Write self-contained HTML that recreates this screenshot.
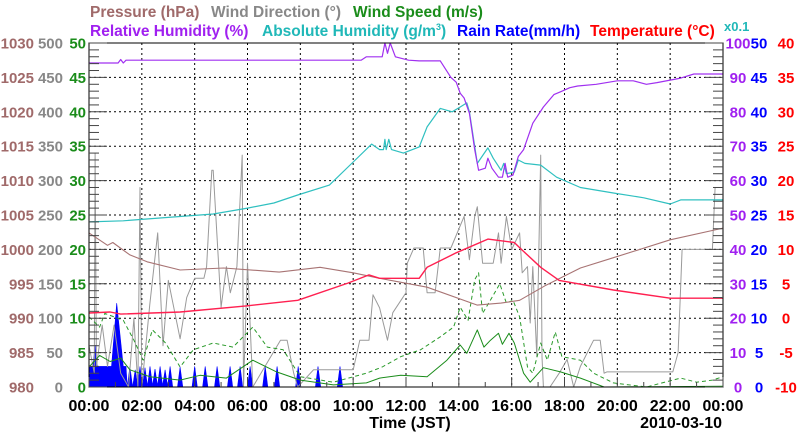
<!DOCTYPE html>
<html><head><meta charset="utf-8"><style>
body{margin:0;background:#fff;}
svg{display:block;font-family:"Liberation Sans",Arial,sans-serif;font-weight:bold;}
</style></head><body>
<svg id="c" width="800" height="434" viewBox="0 0 800 434" xmlns="http://www.w3.org/2000/svg">
<g font-size="15.5">
<text x="90" y="17" fill="#a06a6a">Pressure (hPa)</text>
<text x="211" y="17" fill="#888">Wind Direction (°)</text>
<text x="353" y="17" fill="#1a8c1a">Wind Speed (m/s)</text>
<text x="90" y="36" fill="#a020f0">Relative Humidity (%)</text>
<text x="262" y="36" fill="#20b8b8">Absolute Humidity (g/m<tspan font-size="9" dy="-6">3</tspan><tspan dy="6">)</tspan></text>
<text x="457" y="36" fill="#0000ff">Rain Rate(mm/h)</text>
<text x="590" y="36" fill="#ff0000">Temperature (°C)</text>
<text x="724" y="31" fill="#20b8b8" font-size="13">x0.1</text>
</g>
<g id="grid"></g>
<g id="series"></g>
<g id="axes"></g>
<text x="410" y="428" text-anchor="middle" font-size="16" fill="#000">Time (JST)</text>
<text x="722" y="428" text-anchor="end" font-size="16" fill="#000">2010-03-10</text>
</svg>
<script>
// ---- data (hours since 00:00) ----
const xTickLabels = ["00:00","02:00","04:00","06:00","08:00","10:00","12:00","14:00","16:00","18:00","20:00","22:00","00:00"];
const pressureTicks = [1030,1025,1020,1015,1010,1005,1000,995,990,985,980];
const dirTicks = [500,450,400,350,300,250,200,150,100,50,0];
const speedTicks = [50,45,40,35,30,25,20,15,10,5,0];
const rhTicks = [100,90,80,70,60,50,40,30,20,10,0];
const rainTicks = [50,45,40,35,30,25,20,15,10,5,0];
const tempTicks = [40,35,30,25,20,15,10,5,0,-5,-10];

const rhT = [0,1.1,1.2,1.3,1.4,1.5,10.3,10.5,11.1,11.2,11.3,11.4,11.6,12.1,12.5,13.3,13.7,13.9,14.05,14.2,14.4,14.6,14.75,15,15.1,15.25,15.5,15.65,15.75,15.85,16.05,16.25,16.45,16.8,17.2,17.6,17.85,18.2,18.5,19.2,20,20.6,21.1,21.5,22.4,22.9,24];
const rhV = [94.2,94.2,95.2,94.2,95,95,95,96,96,100,97,100,96,95,94.8,94.8,90,88.6,85.4,84,79.6,69,63,63.6,66.5,63.6,61,61,65,61,61.6,67,69,76.7,81.4,85,85.8,87,87.5,88,89,89,88,88.5,89.8,91,91];

const ahT = [0,1.3,2.5,3.5,4.7,6,7,7.9,9.1,10,10.7,11,11.15,11.2,11.25,11.35,11.45,11.9,12.5,12.8,13.3,13.75,14.05,14.3,14.4,14.7,15.1,15.3,15.6,15.7,15.8,16.1,16.25,16.5,17.1,17.7,18.6,19.85,21,22,22.4,23,24];
const ahV = [48,48.3,49,49.6,50.3,52,53.5,55.8,58.7,65.4,70.6,69,69,72,69,72,69,68,69.8,75.6,81,80,81.4,82.6,80,65,69.5,66.5,63,65,62,62.5,66,65,64.5,61,58,56.4,55,53.2,54.4,54.4,54.4];

const presT = [0,0.7,0.9,1.55,2.2,3.45,5.1,7.2,8.75,10,11,12.8,14.7,15.6,16.3,17.3,18.6,19.85,22,24];
const presV = [1002.4,1000.6,1001,999.2,998.2,997,997.3,996.7,997.4,996.6,995.8,994.5,991.9,992.2,992.6,994.8,997.3,998.8,1001.4,1003.1];

const tempT = [0,0.8,1.2,3.45,6,7.9,9.8,10.6,11,12.5,12.8,13.9,15.1,16.1,16.4,17.1,17.8,19.85,22,24];
const tempV = [0.75,0.9,0.6,0.9,1.8,2.6,5.1,6.3,5.8,5.8,7.4,9.5,11.5,11,9.9,7.4,5.5,4.1,2.9,2.9];

const dirT = [0,0.2,0.23,0.28,0.5,0.7,0.95,1.2,1.5,1.7,1.85,1.93,2.0,2.3,2.6,2.8,3.0,3.45,3.7,4.0,4.35,4.45,4.65,4.7,5.0,5.2,5.35,5.6,5.8,5.85,6.0,6.2,7.25,7.5,7.75,7.9,8.5,10,10.25,10.6,10.75,11,11.3,11.5,12,12.05,12.3,12.65,12.8,13.1,13.3,13.7,14.2,14.4,14.6,14.7,14.9,15.3,15.5,15.6,15.8,16.0,16.3,16.4,16.6,16.7,16.8,16.95,17.1,17.15,17.2,17.45,17.8,18.1,18.35,18.6,19.1,19.35,19.5,19.6,22.1,22.3,22.45,23.6,23.7,24];
const dirV = [60,20,340,30,90,30,90,20,0,100,0,290,0,120,224,60,155,70,130,158,158,175,315,315,116,175,137,175,337,0,180,0,68,68,20,0,25,25,68,68,134,115,68,108,137,180,202,202,137,137,202,202,248,185,248,262,180,180,224,180,248,200,224,166,175,93,175,44,337,44,0,0,20,40,0,30,68,68,20,22,22,50,200,200,290,290];

const spdT = [0,0.4,0.8,1.2,1.55,2.3,3.45,4.2,5.2,6.2,7.1,8,9.25,10.5,11,11.8,12.8,13.55,14.05,14.3,14.7,14.95,15.2,15.5,15.65,15.9,16.1,16.45,16.7,17.2,17.85,18.6,19.5,24];
const spdV = [2.9,4.6,3.7,4.2,2.5,1.5,1,1.7,1.3,3.9,2.2,1,0.3,0.6,1.3,1.7,1.5,3.9,6.1,4.9,8.3,5.8,6.8,7.8,6.2,7.8,6.4,2,0.7,2.8,2.2,1.3,0,0.1];

const gustT = [0,0.4,0.6,1.3,1.7,2.05,2.4,2.9,3.45,3.95,4.7,5.45,6.2,6.75,7.35,8,9.25,10.5,11.1,11.8,12.55,13.3,13.8,14.05,14.35,14.6,14.75,14.9,15.25,15.55,15.8,16.05,16.3,16.6,16.8,17.1,17.35,17.65,17.9,18.6,19.1,19.85,21.1,22.4,23,23.6,24];
const gustV = [10.2,8.7,10.7,9.7,6.8,3.9,8.3,6.4,2.9,5.4,6.4,5.8,8.7,5.8,5.4,1.5,0.7,2,2.9,4.4,5.4,7.3,8.7,11.6,9.7,15.6,16.6,10.7,13,15,12.2,12.6,10.2,2.9,2,6.4,3.9,8,4.4,3.9,2,0.6,0,1.3,0.7,1,1.5];

const rainT = [0,0.03,0.15,0.23,0.31,0.85,1.05,1.3,1.4,1.45];
const rainV = [0,3,3,6.1,3,3,12.2,3,3,0];
const rainSpikeT = [1.55,1.75,1.93,2.12,2.31,2.5,2.69,2.88,3.07,3.45,4.0,4.4,4.85,5.34,5.72,6.1,6.67,7.12,7.92,8.67,9.5];
const rainSpikeV = [3,2.5,3,2.8,3,2.6,3,2.5,3,2.9,3,3,3,3,3,3,3,3,3,3,3];

// ---- scales ----
const X0=89,X1=723,Y0=43,Y1=387;
const xs = h => X0 + h/24*(X1-X0);
const ys = (v,lo,hi) => Y1 - (v-lo)/(hi-lo)*(Y1-Y0);
const NS="http://www.w3.org/2000/svg";
function mk(tag, parent, attrs){const e=document.createElementNS(NS,tag);for(const k in attrs)e.setAttribute(k,attrs[k]);parent.appendChild(e);return e;}
const grid=document.getElementById('grid'), series=document.getElementById('series'), axes=document.getElementById('axes');

for(let i=1;i<12;i++){const x=xs(i*2);
  const l=mk('line',grid,{x1:x,y1:Y0,x2:x,y2:Y1,stroke:'#000','stroke-width':1,'stroke-dasharray':'2,3'});
  
  }
for(let i=1;i<10;i++){const y=Y0+i*(Y1-Y0)/10;
  const l=mk('line',grid,{x1:X0,y1:y,x2:X1,y2:y,stroke:'#000','stroke-width':1,'stroke-dasharray':'2,3'});
  
  }

function line(T,V,lo,hi,color,name,w,dash){
  const d=T.map((t,i)=>(i?'L':'M')+xs(t).toFixed(1)+','+ys(V[i],lo,hi).toFixed(1)).join('');
  const p=mk('path',series,{d:d,fill:'none',stroke:color,'stroke-width':w||1.1,'stroke-linejoin':'round'});
  if(dash)p.setAttribute('stroke-dasharray',dash);
  
  
}
let rd='M'+xs(rainT[0])+','+ys(0,0,50);
rainT.forEach((t,i)=>{rd+='L'+xs(t).toFixed(1)+','+ys(rainV[i],0,50).toFixed(1);});
rainSpikeT.forEach((t,i)=>{rd+='L'+xs(t-0.1).toFixed(1)+','+Y1+'L'+xs(t).toFixed(1)+','+ys(rainSpikeV[i],0,50).toFixed(1)+'L'+xs(t+0.1).toFixed(1)+','+Y1;});
rd+='L'+X1+','+Y1+'Z';
const rp=mk('path',series,{d:rd,fill:'#0000ff',stroke:'#0000ff','stroke-width':0.6});



line(dirT,dirV,0,500,'#9a9a9a','wind-direction-line',1);
line(gustT,gustV,0,50,'#2a9a2a','wind-gust-line',1,'4,3');
line(spdT,spdV,0,50,'#1a8c1a','wind-speed-line',1);
line(presT,presV,980,1030,'#a87474','pressure-line',1.1);
line(ahT,ahV,0,100,'#30c0c0','absolute-humidity-line',1.2);
line(rhT,rhV,0,100,'#a030f0','relative-humidity-line',1.2);
line(tempT,tempV,-10,40,'#ff2050','temperature-line',1.4);

const fr=mk('rect',axes,{x:X0,y:Y0,width:X1-X0,height:Y1-Y0,fill:'none',stroke:'#000','stroke-width':1});


for(let i=0;i<=50;i++){const y=Y0+i*(Y1-Y0)/50;const len=(i%5===0)?18:10;
  const a=mk('line',axes,{x1:X0,y1:y,x2:X0+len,y2:y,stroke:'#444','stroke-width':1});
  
  
  const b=mk('line',axes,{x1:X1,y1:y,x2:X1-len,y2:y,stroke:'#444','stroke-width':1});
  
  }
for(let i=0;i<=24;i++){const x=xs(i);const len=(i%2===0)?10:5;
  const a=mk('line',axes,{x1:x,y1:Y1,x2:x,y2:Y1-len,stroke:'#444','stroke-width':1});
  
  }

function tlabel(x,y,txt,color,anchor,name,fs){
  const t=mk('text',axes,{x:x,y:y,fill:color,'text-anchor':anchor,'font-size':fs||15});
  t.textContent=txt;
  
  
}
for(let i=0;i<11;i++){const y=Y0+i*(Y1-Y0)/10+5.5;
  tlabel(34,y,pressureTicks[i],'#a06a6a','end','pressure-tick-label');
  tlabel(63,y,dirTicks[i],'#888','end','wind-direction-tick-label');
  tlabel(86,y,speedTicks[i],'#1a8c1a','end','wind-speed-tick-label');
  tlabel(738,y,rhTicks[i],'#a020f0','middle','humidity-tick-label');
  tlabel(759,y,rainTicks[i],'#0000ff','middle','rain-tick-label');
  tlabel(786,y,tempTicks[i],'#ff0000','middle','temperature-tick-label');
}
xTickLabels.forEach((s,i)=>tlabel(xs(i*2),411,s,'#000','middle','x-tick-label',16));
</script>
</body></html>
